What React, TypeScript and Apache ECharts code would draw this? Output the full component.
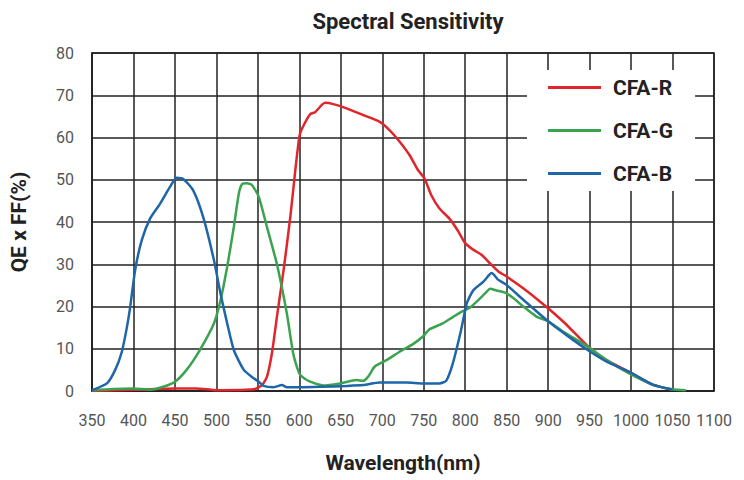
import React, { useEffect, useRef } from "react";
import * as echarts from "echarts";

const xTicks = { min: 350, max: 1100, interval: 50 };
const yTicks = { min: 0, max: 80, interval: 10 };

const redWl = [350, 400, 450, 476, 500, 545, 555, 561, 567, 573, 581, 589, 595, 600, 603, 613, 619, 631, 641, 657, 677, 697, 709, 721, 733, 743, 751, 759, 769, 781, 791, 800, 810, 820, 830, 840, 850, 870, 890, 900, 920, 950, 970, 1000, 1026, 1050];
const redQe = [0, 0.3, 0.6, 0.6, 0.2, 0.4, 1.4, 3.4, 9, 17.6, 28.6, 41, 52, 60.2, 62, 65.5, 66, 68.2, 67.9, 66.9, 65.3, 63.7, 61.7, 59, 55.8, 52.3, 50.3, 46.4, 43.2, 40.8, 38, 35, 33.4, 32.2, 30.2, 28.3, 27.1, 24.3, 21.2, 19.6, 16.1, 10.2, 7.4, 4.3, 1.5, 0.3];

const greenWl = [350, 376, 400, 420, 436, 450, 464, 480, 497, 505, 513, 521, 527, 531, 537, 543, 551, 561, 573, 585, 593, 601, 613, 629, 649, 669, 677, 683, 691, 705, 721, 737, 749, 757, 773, 786, 796, 806, 814, 824, 830, 838, 848, 858, 870, 886, 900, 918, 950, 970, 1000, 1026, 1050, 1066];
const greenQe = [0.2, 0.5, 0.6, 0.3, 1, 2.2, 5, 9.7, 16, 21.5, 29.4, 38.8, 46.7, 49, 49.2, 48.7, 46, 38.8, 30, 18.3, 8.5, 3.8, 2.2, 1.3, 1.8, 2.6, 2.4, 3.4, 5.8, 7.3, 9.3, 11.1, 12.9, 14.6, 16, 17.6, 18.8, 19.8, 21.2, 23.1, 24.2, 23.8, 23.3, 22, 20, 17.6, 16.5, 14.1, 10.2, 7.4, 3.9, 1.5, 0.4, 0.2];

const blueWl = [350, 368, 378, 386, 392, 396, 402, 410, 420, 432, 444, 452, 460, 472, 484, 497, 505, 513, 521, 533, 545, 551, 557, 569, 579, 585, 601, 625, 657, 677, 697, 729, 749, 769, 777, 785, 795, 802, 810, 822, 829, 832, 840, 850, 870, 900, 930, 950, 970, 1000, 1026, 1050];
const blueQe = [0.2, 1.8, 5, 9.3, 15, 19.8, 28.6, 35.7, 40.8, 44.3, 48.3, 50.5, 50.2, 47.5, 41.2, 31, 23, 16, 9.7, 5, 3, 2.2, 1.2, 0.9, 1.4, 0.9, 0.9, 1, 1.2, 1.4, 2, 2, 1.8, 1.8, 2.4, 6.5, 14.4, 20.8, 23.9, 25.9, 27.5, 27.9, 26.3, 25.1, 21.6, 16.5, 12.1, 9.4, 7, 4.3, 1.5, 0.3];

const seriesNames = ["CFA-R", "CFA-G", "CFA-B"];
const seriesColors = ["#e0262b", "#3aa34f", "#1f66a8"];

const zip = (a: number[], b: number[]) => a.map((v, i) => [v, b[i]]);

export default function App() {
  const ref = useRef<HTMLDivElement>(null);
  useEffect(() => {
    if (!ref.current) return;
    const chart = echarts.init(ref.current, undefined, { renderer: "svg" });
    const data = [zip(redWl, redQe), zip(greenWl, greenQe), zip(blueWl, blueQe)];
    chart.setOption({
      animation: false,
      backgroundColor: "#ffffff",
      textStyle: { fontFamily: "Roboto" },
      title: {
        text: "Spectral Sensitivity",
        left: 403,
        top: 5,
        textAlign: "center",
        textStyle: { fontSize: 22, fontWeight: "bold", color: "#222", fontFamily: "Roboto" },
      },
      grid: {
        left: 92,
        right: 30,
        top: 53,
        bottom: 89,
        show: true,
        borderColor: "#222",
        borderWidth: 1.5,
      },
      legend: {
        orient: "vertical",
        left: 527,
        top: 70,
        backgroundColor: "#ffffff",
        padding: [7, 22, 7, 21],
        itemWidth: 53,
        itemHeight: 3,
        itemGap: 22,
        icon: "rect",
        z: 10,
        textStyle: {
          fontSize: 21,
          fontWeight: "bold",
          color: "#222",
          fontFamily: "Roboto",
          padding: [0, 0, 0, 7],
          lineHeight: 21,
        },
        data: seriesNames,
      },
      xAxis: {
        type: "value",
        min: xTicks.min,
        max: xTicks.max,
        interval: xTicks.interval,
        name: "Wavelength(nm)",
        nameLocation: "middle",
        nameGap: 61,
        nameTextStyle: { fontSize: 21, fontWeight: "bold", color: "#222" },
        axisLine: { show: true, lineStyle: { color: "#222", width: 1.5 } },
        axisTick: { show: false },
        axisLabel: { fontSize: 16, color: "#555", margin: 21, formatter: (v: number) => String(v) },
        splitLine: { show: true, lineStyle: { color: "#222", width: 1.5 } },
      },
      yAxis: {
        type: "value",
        min: yTicks.min,
        max: yTicks.max,
        interval: yTicks.interval,
        name: "QE x FF(%)",
        nameLocation: "middle",
        nameGap: 63,
        nameTextStyle: { fontSize: 21, fontWeight: "bold", color: "#222" },
        axisLine: { show: true, lineStyle: { color: "#222", width: 1.5 } },
        axisTick: { show: false },
        axisLabel: { fontSize: 16, color: "#555", margin: 18, formatter: (v: number) => String(v) },
        splitLine: { show: true, lineStyle: { color: "#222", width: 1.5 } },
      },
      series: seriesNames.map((n, i) => ({
        name: n,
        type: "line",
        data: data[i],
        smooth: 0.2,
        showSymbol: false,
        symbol: "none",
        color: seriesColors[i],
        lineStyle: { width: 2.5, color: seriesColors[i] },
        z: 2,
      })),
    });
    return () => chart.dispose();
  }, []);
  return <div ref={ref} style={{ width: 744, height: 480, marginLeft: -8, marginTop: -8 }} />;
}
